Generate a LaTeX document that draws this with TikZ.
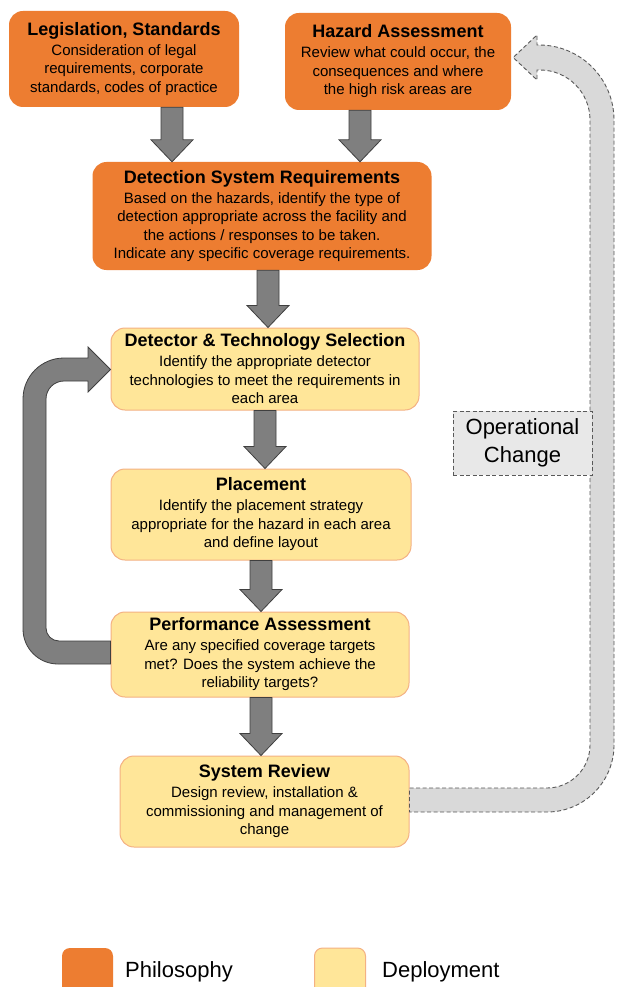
\documentclass[tikz,border=0pt]{standalone}
\usepackage{fontspec}
\setmainfont{Liberation Sans}
\usetikzlibrary{calc}
\definecolor{phil}{HTML}{ED7D31}
\definecolor{depl}{HTML}{FFE699}
\definecolor{deplb}{HTML}{F4B183}
\definecolor{garr}{HTML}{7F7F7F}
\definecolor{garrb}{HTML}{3F3F3F}
\definecolor{opfill}{HTML}{D9D9D9}
\definecolor{opbox}{HTML}{E8E8E8}
\definecolor{dashc}{HTML}{595959}
\tikzset{
  box/.style={rounded corners=14pt, align=center, inner sep=0pt, text=black,
    font=\fontsize{15}{18.5}\selectfont},
  philbox/.style={box, fill=phil},
  deplbox/.style={box, fill=depl, draw=deplb, line width=1pt},
  garrow/.style={fill=garr, draw=garrb, line width=0.8pt, line join=miter},
  oparrow/.style={fill=opfill, draw=dashc, line width=0.9pt, dash pattern=on 4pt off 2.5pt},
  opbox/.style={fill=opbox, draw=dashc, line width=0.9pt, dash pattern=on 4pt off 2.5pt,
    align=center, inner sep=0pt, font=\fontsize{22}{28}\selectfont},
  legsq/.style={rounded corners=8pt, minimum width=51, minimum height=50, inner sep=0pt},
  legtext/.style={anchor=west, inner sep=0pt, font=\fontsize{22}{26}\selectfont},
}
\newcommand{\ttl}[1]{{\fontsize{18}{18.5}\selectfont\bfseries #1}\\[1.5pt]}
\newcommand{\downblock}[3]{%
  \draw[garrow] let \p1=(#2.south), \p2=(#3.north) in
    (#1pt-11pt,\y1) -- (#1pt+11pt,\y1) -- (#1pt+11pt,\y2+22pt) -- (#1pt+21pt,\y2+22pt)
    -- (#1pt,\y2) -- (#1pt-21pt,\y2+22pt) -- (#1pt-11pt,\y2+22pt) -- cycle;}
\begin{document}
\begin{tikzpicture}[x=1pt,y=-1pt]
\clip (0,0) rectangle (616,987);
\fill[white] (0,0) rectangle (616,987);

% boxes
\node[philbox, minimum width=230, minimum height=96] (leg) at (124,59)
  {\ttl{Legislation, Standards}Consideration of legal\\requirements, corporate\\standards, codes of practice};
\node[philbox, minimum width=226, minimum height=97] (haz) at (398,61.5)
  {\ttl{Hazard Assessment}Review what could occur, the\\consequences and where\\the high risk areas are};
\node[philbox, minimum width=339, minimum height=108] (dsr) at (262,216)
  {\ttl{Detection System Requirements}Based on the hazards, identify the type of\\detection appropriate across the facility and\\the actions / responses to be taken.\\Indicate any specific coverage requirements.};
\node[deplbox, minimum width=308, minimum height=82] (dts) at (265,369)
  {\ttl{Detector \& Technology Selection}Identify the appropriate detector\\technologies to meet the requirements in\\each area};
\node[deplbox, minimum width=300, minimum height=91] (plc) at (261,514.5)
  {\ttl{Placement}Identify the placement strategy\\appropriate for the hazard in each area\\and define layout};
\node[deplbox, minimum width=298, minimum height=85] (perf) at (260,654.5)
  {\ttl{Performance Assessment}Are any specified coverage targets\\met? Does the system achieve the\\reliability targets?};
\node[deplbox, minimum width=289, minimum height=91] (sr) at (264.5,801.5)
  {\ttl{System Review}Design review, installation \&\\commissioning and management of\\change};

% operational change arrow
\draw[oparrow] (sr.east |- 0,788) -- (547,788) arc[start angle=90, end angle=0, radius=43]
  -- (590,120) arc[start angle=0, end angle=-90, radius=50]
  -- (537,70) -- (537,80) -- ([xshift=2pt]haz.east |- 0,57.5) -- (537,35) -- (537,45) -- (539,45)
  arc[start angle=-90, end angle=0, radius=75]
  -- (614,745) arc[start angle=0, end angle=90, radius=67]
  -- (sr.east |- 0,812) -- cycle;
\node[opbox, minimum width=139, minimum height=64] (opc) at (522.5,443) {Operational\\Change};

% down arrows
\downblock{172}{leg}{dsr}
\downblock{360}{haz}{dsr}
\downblock{268}{dsr}{dts}
\downblock{265}{dts}{plc}
\downblock{261}{plc}{perf}
\downblock{261}{perf}{sr}

% loop arrow
\draw[garrow] (perf.west |- 0,641) -- (59,641) arc[start angle=90, end angle=180, radius=13]
  -- (46,399) arc[start angle=180, end angle=270, radius=18]
  -- (88,381) -- (88,392) -- (dts.west |- 0,369.5) -- (88,347) -- (88,358) -- (64,358)
  arc[start angle=270, end angle=180, radius=41]
  -- (23,629) arc[start angle=180, end angle=90, radius=35]
  -- (perf.west |- 0,664) -- cycle;

% legend
\node[legsq, fill=phil] (lgp) at (87.5,973) {};
\node[legtext] (lgpt) at (125,972) {Philosophy};
\node[legsq, fill=depl, draw=deplb, line width=1pt] (lgd) at (340,973) {};
\node[legtext] (lgdt) at (382,972) {Deployment};
\end{tikzpicture}
\end{document}
